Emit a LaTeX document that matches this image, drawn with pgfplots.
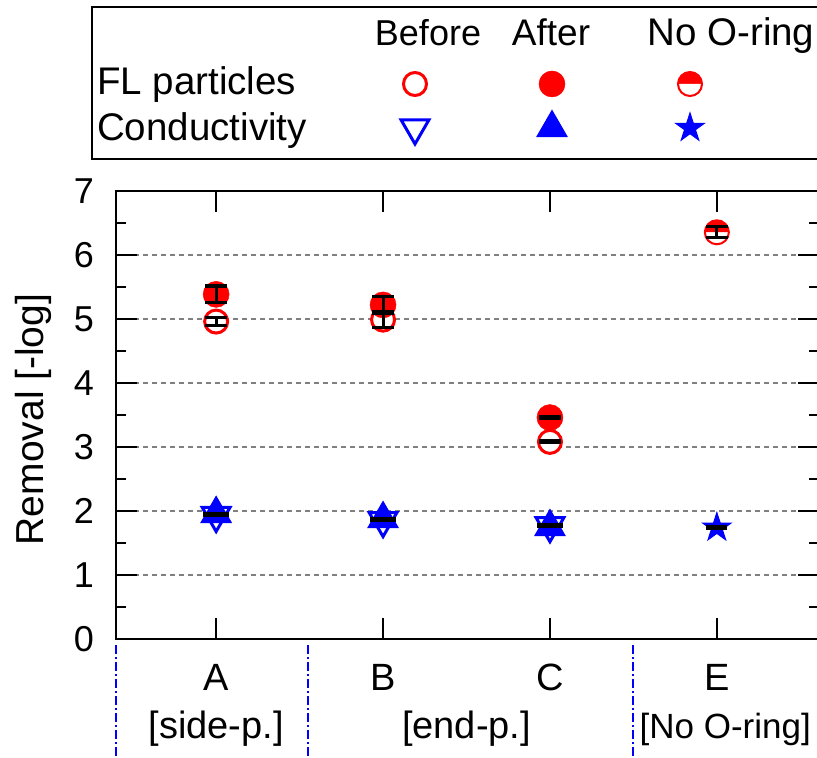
\documentclass[border=0pt]{standalone}
\usepackage{fontspec}
\setmainfont{Liberation Sans}
\usepackage{pgfplots}
\pgfplotsset{compat=1.18}
\usetikzlibrary{plotmarks}
\pgfdeclareplotmark{fstar}{%
  \pgfpathmoveto{\pgfpointpolar{90}{\pgfplotmarksize}}%
  \pgfpathlineto{\pgfpointpolar{126}{0.382*\pgfplotmarksize}}%
  \pgfpathlineto{\pgfpointpolar{162}{\pgfplotmarksize}}%
  \pgfpathlineto{\pgfpointpolar{198}{0.382*\pgfplotmarksize}}%
  \pgfpathlineto{\pgfpointpolar{234}{\pgfplotmarksize}}%
  \pgfpathlineto{\pgfpointpolar{270}{0.382*\pgfplotmarksize}}%
  \pgfpathlineto{\pgfpointpolar{306}{\pgfplotmarksize}}%
  \pgfpathlineto{\pgfpointpolar{342}{0.382*\pgfplotmarksize}}%
  \pgfpathlineto{\pgfpointpolar{18}{\pgfplotmarksize}}%
  \pgfpathlineto{\pgfpointpolar{54}{0.382*\pgfplotmarksize}}%
  \pgfpathclose
  \pgfusepathqfillstroke
}
\newcommand{\fs}[1]{\fontsize{#1bp}{1.2\dimexpr#1bp\relax}\selectfont}
\pgfplotsset{
  cap/.style n args={2}{black, only marks, mark=-, mark size=#1, mark options={draw=black, solid, line width=#2}, forget plot},
  bar/.style={black, only marks, mark=|, mark size=#1, mark options={draw=black, solid, line width=3bp}, forget plot},
}
\begin{document}%
\fs{36}%
\begin{tikzpicture}
\begin{axis}[
  at={(116bp,119bp)}, anchor=south west,
  scale only axis, width=703bp, height=448bp,
  xmin=0.4, xmax=4.612, ymin=0, ymax=7,
  clip=false,
  xtick={1,2,3,4}, xticklabels={A,B,C,E},
  ytick={0,1,...,7}, minor ytick={0.5,1.5,...,6.5},
  tick align=inside,
  major tick length=21bp, minor tick length=10bp,
  axis line style={line width=2.5bp},
  tick style={line width=2.5bp, black},
  ymajorgrids,
  major grid style={gray, line width=2bp, dash pattern=on 5bp off 4bp},
  /pgf/number format/assume math mode=true,
  yticklabel style={font=\fs{36}, xshift=-10bp},
  xticklabel style={font=\fs{38}, yshift=-13bp},
  ylabel={Removal [-log]},
  every axis y label/.style={at={(axis description cs:-0.118,0.49)}, rotate=90, anchor=center, font=\fs{39}},
]
% separators below the axis
\addplot[blue, line width=2bp, dash pattern=on 9bp off 3bp on 2bp off 3bp, forget plot] coordinates {(0.4,-0.1) (0.4,-1.86)};
\addplot[blue, line width=2bp, dash pattern=on 9bp off 3bp on 2bp off 3bp, forget plot] coordinates {(1.55,-0.1) (1.55,-1.86)};
\addplot[blue, line width=2bp, dash pattern=on 9bp off 3bp on 2bp off 3bp, forget plot] coordinates {(3.5,-0.1) (3.5,-1.86)};
% conductivity
\addplot[only marks, mark=triangle*, mark size=16bp, mark options={rotate=180, draw=blue, fill=white, line width=3bp}] coordinates {(1,1.93) (2,1.85) (3,1.77)};
\addplot[only marks, mark=triangle*, mark size=17.5bp, mark options={draw=blue, fill=blue, line width=1bp}] coordinates {(1,1.955) (2,1.875) (3,1.75)};
\addplot[only marks, mark=fstar, mark size=15bp, mark options={draw=blue, fill=blue, line width=1bp}] coordinates {(4,1.74)};
% FL particles
\addplot[only marks, mark=*, mark size=11.5bp, mark options={draw=red, fill=white, line width=3bp}] coordinates {(1,4.96) (2,4.99) (3,3.08)};
\addplot[only marks, mark=*, mark size=13bp, mark options={draw=red, fill=red, line width=0.5bp}] coordinates {(1,5.385) (2,5.22) (3,3.46)};
\addplot[only marks, mark=halfcircle*, mark size=12bp, mark options={draw=red, fill=red, mark color=white, line width=2bp}] coordinates {(4,6.355)};
% error bars: A before 4.96 +- 0.0625, A after 5.385 +- 0.13, B before 4.99 +- 0.125, B after 5.22 +- 0.13, E 6.355 +- 0.086
\addplot[bar=4bp] coordinates {(1,4.96)};
\addplot[bar=8.3bp] coordinates {(1,5.385) (2,5.22)};
\addplot[bar=8bp] coordinates {(2,4.99)};
\addplot[bar=5.5bp] coordinates {(4,6.355)};
\addplot[cap={11bp}{3.2bp}] coordinates {(1,4.8975) (1,5.0225) (1,5.255) (1,5.515) (2,4.865) (2,5.115) (2,5.09) (2,5.35) (4,6.269) (4,6.441)};
% very small error bars
\addplot[cap={11bp}{5bp}] coordinates {(3,3.08) (3,3.46)};
\addplot[cap={13bp}{5bp}] coordinates {(1,1.945) (2,1.87) (3,1.77)};
\addplot[cap={10.5bp}{4.5bp}] coordinates {(4,1.745)};
% group labels
\node[anchor=base, font=\fs{38}] at (axis cs:1,-1.547) {{[side-p.]}};
\node[anchor=base, font=\fs{38}] at (axis cs:2.5,-1.547) {{[end-p.]}};
\node[anchor=base, font=\fs{35}] at (axis cs:4.05,-1.547) {{[No O-ring]}};
\end{axis}
% legend box
\begin{axis}[
  at={(92bp,599bp)}, anchor=south west,
  scale only axis, width=730bp, height=152bp,
  xmin=92, xmax=822, ymin=599, ymax=751,
  xtick=\empty, ytick=\empty, clip=false,
  axis line style={line width=2.5bp},
]
\node[anchor=base, font=\fs{36}] at (axis cs:428,712) {Before};
\node[anchor=base, font=\fs{37}] at (axis cs:551,712) {After};
\node[anchor=base, font=\fs{38.5}] at (axis cs:731,712) {No O-ring};
\node[anchor=base west, inner sep=0pt, font=\fs{38.5}] at (axis cs:97,663) {FL particles};
\node[anchor=base west, inner sep=0pt, font=\fs{38.5}] at (axis cs:97,617) {Conductivity};
\addplot[only marks, mark=*, mark size=11.5bp, mark options={draw=red, fill=white, line width=3bp}] coordinates {(415,674)};
\addplot[only marks, mark=*, mark size=13bp, mark options={draw=red, fill=red, line width=0.5bp}] coordinates {(552,674)};
\addplot[only marks, mark=halfcircle*, mark size=12bp, mark options={draw=red, fill=red, mark color=white, line width=2bp}] coordinates {(690,674)};
\addplot[only marks, mark=triangle*, mark size=16bp, mark options={rotate=180, draw=blue, fill=white, line width=3bp}] coordinates {(415,630)};
\addplot[only marks, mark=triangle*, mark size=17.5bp, mark options={draw=blue, fill=blue, line width=1bp}] coordinates {(552,630)};
\addplot[only marks, mark=fstar, mark size=15bp, mark options={draw=blue, fill=blue, line width=1bp}] coordinates {(690,630)};
\end{axis}
\pgfresetboundingbox
\useasboundingbox (0,0) rectangle (817bp,758bp);
\end{tikzpicture}%
\end{document}
